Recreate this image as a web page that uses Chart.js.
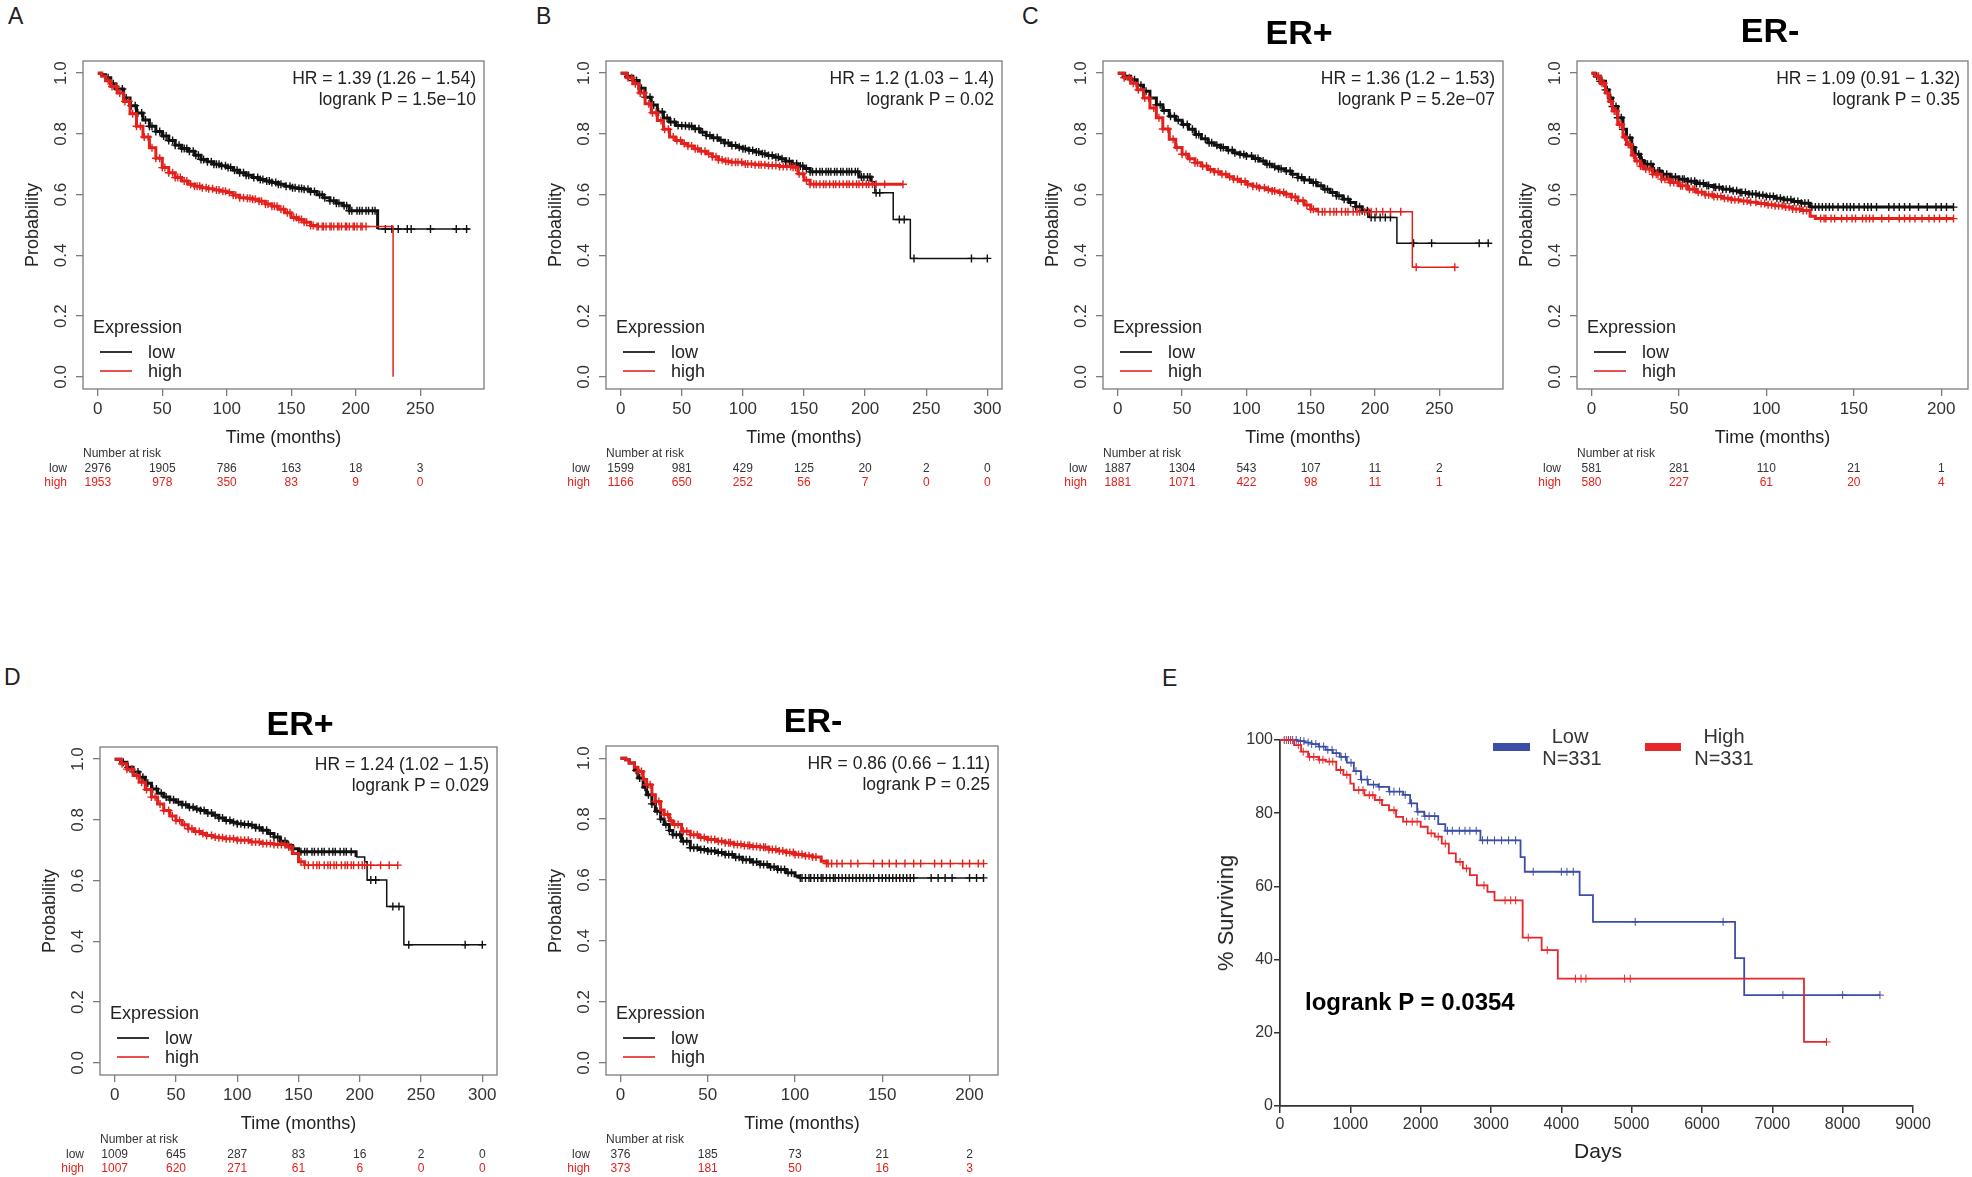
<!DOCTYPE html>
<html>
<head>
<meta charset="utf-8">
<script src="https://cdn.jsdelivr.net/npm/chart.js@4.4.1/dist/chart.umd.min.js"></script>
<style>
  body { margin: 0; background: #fff; width: 1972px; height: 1177px; position: relative; overflow: hidden;
         font-family: "Liberation Sans", Arial, sans-serif; color: #222; }
  canvas { position: absolute; }
  .t { position: absolute; white-space: nowrap; line-height: 1; }
  .ln { position: absolute; }
</style>
</head>
<body>
<script>
// ---------- data ----------
const yTicksR = [0, 0.2, 0.4, 0.6, 0.8, 1.0];
const xTicks250 = [0, 50, 100, 150, 200, 250];
const xTicks300 = [0, 50, 100, 150, 200, 250, 300];
const xTicks200 = [0, 50, 100, 150, 200];

// panel A
const aLow = [[0,1],[3,0.995],[6,0.985],[10,0.965],[14,0.948],[20,0.918],[25,0.893],[30,0.869],[35,0.846],[40,0.825],[45,0.808],[50,0.793],[55,0.778],[60,0.763],[65,0.752],[70,0.743],[75,0.73],[80,0.716],[85,0.708],[90,0.70],[95,0.695],[100,0.689],[105,0.68],[110,0.672],[115,0.664],[120,0.656],[125,0.65],[130,0.645],[135,0.64],[140,0.634],[145,0.628],[150,0.623],[155,0.62],[160,0.618],[165,0.61],[170,0.60],[175,0.59],[180,0.58],[185,0.572],[190,0.563],[195,0.547],[217,0.487],[288,0.487]];
const aHigh = [[0,1],[3,0.99],[6,0.975],[10,0.956],[15,0.935],[20,0.907],[25,0.866],[30,0.825],[35,0.79],[40,0.754],[45,0.72],[50,0.689],[55,0.672],[60,0.656],[65,0.645],[70,0.634],[75,0.628],[80,0.623],[85,0.619],[90,0.615],[95,0.611],[100,0.607],[105,0.598],[110,0.59],[115,0.588],[120,0.585],[125,0.578],[130,0.569],[135,0.562],[140,0.552],[145,0.54],[150,0.525],[155,0.518],[160,0.509],[165,0.498],[170,0.495],[229,0]];
const aLowCens = [8,12,15,19,22,26,29,31,34,37,40,42,45,48,51,53,55,58,60,63,65,67,69,71,74,76,78,80,82,85,88,90,92,94,96,99,101,103,106,108,110,113,115,117,121,124,126,128,131,133,135,138,140,142,146,149,151,153,156,158,160,163,165,168,172,174,176,180,183,185,187,191,193,195,197,201,203,205,208,210,213,215,223,228,233,240,243,258,278,286];
const aHighCens = [8,11,14,17,21,24,27,30,33,36,39,42,45,48,50,52,55,58,60,62,64,67,69,72,75,77,79,81,84,86,89,92,94,97,99,102,105,107,110,113,116,118,120,122,125,127,130,132,135,137,139,142,144,147,149,152,154,156,158,160,162,165,167,170,171,174,175,177,180,181,183,186,187,189,192,193,195,198,199,201,204,205,208];
const aRiskLow = [2976, 1905, 786, 163, 18, 3];
const aRiskHigh = [1953, 978, 350, 83, 9, 0];

// panel B
const bLow = [[0,1],[5,0.99],[10,0.976],[15,0.95],[20,0.921],[25,0.895],[30,0.872],[35,0.852],[40,0.839],[45,0.828],[50,0.827],[55,0.825],[60,0.817],[65,0.805],[70,0.795],[75,0.787],[80,0.779],[85,0.77],[90,0.762],[95,0.756],[100,0.751],[105,0.745],[110,0.74],[115,0.735],[120,0.729],[125,0.723],[130,0.718],[135,0.71],[140,0.702],[145,0.694],[150,0.686],[155,0.675],[195,0.658],[205,0.642],[208,0.606],[223,0.518],[237,0.39],[300,0.39]];
const bHigh = [[0,1],[5,0.985],[10,0.965],[15,0.935],[20,0.899],[25,0.87],[30,0.844],[35,0.815],[40,0.79],[45,0.778],[50,0.768],[55,0.76],[60,0.751],[65,0.743],[70,0.735],[75,0.725],[80,0.715],[85,0.71],[90,0.707],[100,0.701],[110,0.698],[120,0.696],[130,0.693],[140,0.69],[145,0.669],[150,0.647],[155,0.634],[231,0.634]];
const bLowCens = [6,10,13,17,20,24,27,31,34,38,41,44,47,50,53,56,58,61,64,67,70,73,76,79,82,85,88,91,94,97,100,102,105,108,111,113,116,118,121,124,127,129,132,135,138,141,144,147,149,152,155,157,160,163,165,168,170,172,175,177,180,182,185,187,189,192,194,197,199,202,204,209,212,228,232,240,287,300];
const bHighCens = [6,9,12,16,19,23,26,29,33,36,39,43,46,49,52,55,58,61,63,66,69,72,75,78,80,83,86,88,91,94,96,99,102,104,107,110,113,115,118,121,124,127,130,133,136,139,141,143,146,149,152,155,158,160,163,166,168,171,174,176,179,182,185,187,190,193,195,198,201,203,206,209,216,231];
const bRiskLow = [1599, 981, 429, 125, 20, 2, 0];
const bRiskHigh = [1166, 650, 252, 56, 7, 0, 0];

// panel C, ER+
const cpLow = [[0,1],[5,0.99],[10,0.978],[15,0.96],[20,0.94],[25,0.918],[30,0.896],[35,0.877],[40,0.858],[45,0.845],[50,0.831],[55,0.815],[60,0.798],[65,0.784],[70,0.771],[75,0.763],[80,0.755],[85,0.746],[90,0.738],[95,0.732],[100,0.727],[105,0.719],[110,0.711],[115,0.70],[120,0.692],[125,0.685],[130,0.678],[135,0.667],[140,0.656],[145,0.648],[150,0.64],[155,0.629],[160,0.618],[165,0.607],[170,0.596],[175,0.585],[180,0.574],[185,0.56],[190,0.547],[195,0.525],[217,0.44],[288,0.44]];
const cpHigh = [[0,1],[5,0.985],[10,0.967],[15,0.945],[20,0.918],[25,0.885],[30,0.853],[35,0.816],[40,0.782],[45,0.755],[50,0.733],[55,0.718],[60,0.705],[65,0.694],[70,0.683],[75,0.675],[80,0.667],[85,0.659],[90,0.651],[95,0.643],[100,0.634],[105,0.628],[110,0.623],[115,0.617],[120,0.612],[125,0.607],[130,0.601],[135,0.592],[140,0.58],[145,0.566],[150,0.552],[155,0.544],[229,0.361],[262,0.361]];
const cpLowCens = [6,10,13,18,22,25,30,33,36,41,44,47,51,54,58,61,63,68,71,73,77,80,82,86,89,91,95,98,100,104,107,109,113,116,118,122,125,127,131,134,136,140,143,145,149,152,154,158,161,163,167,170,172,176,179,181,185,188,190,194,197,200,204,208,212,230,244,281,288];
const cpHighCens = [5,9,12,16,21,24,28,32,35,39,43,46,50,53,56,60,62,66,69,72,75,78,81,84,87,90,93,96,99,101,105,108,110,114,117,120,122,126,129,131,135,138,140,144,147,150,152,156,159,161,165,168,170,174,177,179,183,186,188,192,195,197,201,206,212,220,232,262];
const cpRiskLow = [1887, 1304, 543, 107, 11, 2];
const cpRiskHigh = [1881, 1071, 422, 98, 11, 1];

// panel C, ER-
const cmLow = [[0,1],[2,0.99],[5,0.973],[8,0.945],[10,0.918],[12,0.89],[15,0.853],[18,0.815],[20,0.787],[23,0.755],[25,0.733],[28,0.712],[30,0.70],[35,0.678],[40,0.667],[45,0.658],[50,0.651],[55,0.644],[60,0.637],[65,0.63],[70,0.624],[75,0.618],[80,0.613],[85,0.607],[90,0.602],[95,0.598],[100,0.594],[105,0.588],[110,0.583],[115,0.577],[120,0.572],[125,0.559],[207,0.559]];
const cmHigh = [[0,1],[2,0.99],[5,0.967],[8,0.935],[10,0.907],[12,0.875],[15,0.831],[18,0.79],[20,0.765],[23,0.73],[25,0.711],[28,0.694],[30,0.684],[35,0.667],[40,0.651],[45,0.64],[50,0.629],[55,0.618],[60,0.608],[65,0.60],[70,0.594],[75,0.588],[80,0.583],[85,0.579],[90,0.575],[95,0.571],[100,0.567],[105,0.563],[110,0.559],[115,0.553],[120,0.548],[125,0.529],[128,0.521],[207,0.521]];
const cmLowCens = [3,5,6,8,9,11,12,14,15,17,18,20,22,24,25,27,29,31,32,34,36,38,39,41,43,45,46,48,50,52,53,55,57,59,60,62,64,66,67,70,71,73,75,77,79,81,83,85,86,88,90,92,94,96,98,100,102,104,106,108,110,112,114,116,118,120,122,124,126,128,130,132,134,136,138,141,144,146,148,150,153,156,158,160,163,170,173,176,179,182,187,192,197,200,203,207];
const cmHighCens = [4,6,7,9,11,13,14,16,17,19,21,22,24,26,28,29,31,33,35,37,38,40,42,44,45,47,49,51,52,54,56,58,59,61,63,65,67,69,70,72,74,76,78,80,82,84,87,89,91,94,97,99,101,103,105,107,109,111,113,115,117,119,121,123,131,133,134,137,139,143,146,149,151,155,157,159,161,166,170,176,179,182,185,189,193,196,199,203,207];
const cmRiskLow = [581, 281, 110, 21, 1];
const cmRiskHigh = [580, 227, 61, 20, 4];

// panel D, ER+
const dpLow = [[0,1],[5,0.99],[10,0.973],[15,0.958],[20,0.94],[25,0.921],[30,0.902],[35,0.888],[40,0.875],[45,0.866],[50,0.858],[55,0.85],[60,0.842],[65,0.836],[70,0.831],[75,0.823],[80,0.815],[85,0.806],[90,0.798],[95,0.792],[100,0.787],[105,0.785],[110,0.782],[115,0.774],[120,0.766],[125,0.755],[130,0.744],[135,0.73],[140,0.716],[145,0.705],[150,0.695],[197,0.678],[204,0.662],[206,0.602],[222,0.515],[236,0.389],[300,0.389]];
const dpHigh = [[0,1],[5,0.985],[10,0.967],[15,0.946],[20,0.924],[25,0.9],[30,0.875],[35,0.852],[40,0.831],[45,0.813],[50,0.798],[55,0.784],[60,0.771],[65,0.762],[70,0.755],[75,0.749],[80,0.744],[85,0.741],[90,0.738],[100,0.733],[110,0.727],[120,0.722],[130,0.719],[140,0.711],[145,0.689],[150,0.662],[155,0.651],[231,0.651]];
const dpLowCens = [7,11,15,19,23,27,31,34,38,42,45,48,52,55,58,61,64,67,70,73,76,79,82,85,88,91,94,97,100,103,106,109,112,115,118,121,124,127,130,133,136,139,142,146,152,155,157,161,163,166,169,171,175,178,180,184,187,189,193,209,213,227,232,240,286,300];
const dpHighCens = [6,10,14,18,22,26,30,33,37,40,44,47,50,53,57,60,63,66,69,72,75,79,82,85,88,91,94,97,100,103,106,109,112,115,118,121,124,127,130,133,136,139,142,144,152,155,158,162,165,167,171,174,176,179,181,185,188,190,193,195,199,202,204,209,217,224,231];
const dpRiskLow = [1009, 645, 287, 83, 16, 2, 0];
const dpRiskHigh = [1007, 620, 271, 61, 6, 0, 0];

// panel D, ER-
const dmLow = [[0,1],[3,0.995],[5,0.984],[8,0.96],[10,0.935],[13,0.905],[15,0.88],[18,0.85],[20,0.826],[23,0.8],[25,0.782],[28,0.763],[30,0.749],[35,0.727],[40,0.706],[45,0.70],[50,0.695],[55,0.69],[60,0.684],[65,0.675],[70,0.667],[75,0.659],[80,0.651],[85,0.643],[90,0.635],[95,0.624],[100,0.613],[102,0.607],[208,0.607]];
const dmHigh = [[0,1],[3,0.995],[5,0.984],[8,0.97],[10,0.956],[13,0.93],[15,0.913],[18,0.88],[20,0.858],[23,0.83],[25,0.815],[28,0.795],[30,0.782],[35,0.76],[40,0.749],[45,0.74],[50,0.733],[55,0.727],[60,0.722],[65,0.717],[70,0.713],[75,0.71],[80,0.708],[85,0.70],[90,0.695],[95,0.69],[100,0.684],[105,0.68],[110,0.676],[115,0.662],[118,0.654],[208,0.654]];
const dmLowCens = [9,11,14,16,18,21,23,26,28,30,32,34,36,38,40,42,44,46,48,50,52,54,56,58,60,62,64,66,68,70,72,74,76,78,80,82,84,86,88,90,92,94,96,98,103,104,106,108,109,111,113,115,116,118,120,122,123,125,127,129,131,133,135,137,139,141,143,145,148,150,152,154,156,158,160,162,164,166,168,178,182,186,190,200,204,208];
const dmHighCens = [10,12,15,17,20,22,25,27,29,31,33,36,38,40,42,44,46,48,50,52,54,56,58,60,62,63,65,67,69,71,73,74,76,78,80,82,83,85,87,89,91,93,95,97,99,100,102,104,106,108,110,112,118,119,121,124,127,132,136,145,150,154,158,163,168,172,180,184,189,196,200,205,208];
const dmRiskLow = [376, 185, 73, 21, 2];
const dmRiskHigh = [373, 181, 50, 16, 3];

// panel E (days, % surviving)
const eTicksX = [0, 1000, 2000, 3000, 4000, 5000, 6000, 7000, 8000, 9000];
const eTicksY = [0, 20, 40, 60, 80, 100];
const eLow = [[0,100],[100,100],[250,99.7],[350,99.3],[450,98.9],[550,98.2],[650,97.3],[750,96.4],[850,95.4],[950,93.8],[1050,91.5],[1150,89.2],[1250,87.8],[1400,87.2],[1550,85.9],[1750,85.0],[1850,82.7],[1950,80.4],[2050,79.2],[2250,77.0],[2350,75.2],[2850,72.6],[3420,68.0],[3480,64.0],[4260,57.6],[4450,50.3],[6470,40.4],[6600,30.3],[8530,30.3]];
const eHigh = [[0,100],[120,100],[200,98.6],[300,96.8],[400,95.4],[550,94.6],[650,94.1],[800,91.8],[900,90.5],[1000,88.1],[1050,86.3],[1200,84.9],[1350,83.6],[1450,82.2],[1550,80.8],[1650,79.0],[1750,77.7],[2000,76.3],[2100,74.5],[2200,73.6],[2300,71.7],[2400,69.0],[2500,66.7],[2600,64.9],[2700,63.1],[2800,60.3],[2950,58.5],[3050,56.2],[3450,46.0],[3720,42.6],[3950,34.8],[7450,17.5],[7770,17.5]];
const eLowCens = [60,120,180,230,290,340,400,450,510,560,620,680,740,800,870,930,1010,1080,1160,1240,1330,1410,1560,1620,1700,1780,1870,1960,2060,2120,2200,2380,2450,2550,2630,2700,2790,2880,2950,3050,3150,3250,3350,3600,4000,4080,4170,5050,6300,7150,8000,8530];
const eHighCens = [90,150,260,330,420,480,560,610,700,750,860,950,1120,1180,1270,1320,1420,1620,1800,1880,1950,2150,2250,2350,2560,2650,2900,3200,3280,3350,3530,3800,4200,4280,4350,4900,4980,7770];

// ---------- helpers ----------
const FONT = '"Liberation Sans", Arial, sans-serif';
const BLACK = '#111111';
const RED = '#e3211c';
const GRAY = '#7c7c7c';

function addText(str, x, y, o = {}) {
  const d = document.createElement('div');
  d.className = 't';
  d.textContent = str;
  d.style.left = x + 'px';
  d.style.top = y + 'px';
  d.style.fontSize = (o.size || 18) + 'px';
  if (o.bold) d.style.fontWeight = 'bold';
  if (o.color) d.style.color = o.color;
  const ax = o.align === 'right' ? '-100%' : o.align === 'left' ? '0' : '-50%';
  d.style.transform = `translate(${ax}, -50%)` + (o.rotate ? ` rotate(${o.rotate}deg)` : '');
  document.body.appendChild(d);
}

function addLine(x1, x2, y, color, h) {
  const d = document.createElement('div');
  d.className = 'ln';
  d.style.left = x1 + 'px';
  d.style.top = (y - h / 2) + 'px';
  d.style.width = (x2 - x1) + 'px';
  d.style.height = h + 'px';
  d.style.background = color;
  document.body.appendChild(d);
}

// survival value of a step curve at time t
function survAt(curve, t) {
  let s = curve[0][1];
  for (const [ti, si] of curve) {
    if (ti <= t) s = si; else break;
  }
  return s;
}

const toXY = c => c.map(p => ({ x: p[0], y: p[1] }));
const censXY = (curve, times) => times.map(t => ({ x: t, y: survAt(curve, t) }));

const boxPlugin = {
  id: 'rbox',
  beforeDatasetsDraw(chart) {
    const { ctx, chartArea: a } = chart;
    ctx.save();
    ctx.strokeStyle = GRAY;
    ctx.lineWidth = 1.3;
    ctx.strokeRect(a.left, a.top, a.right - a.left, a.bottom - a.top);
    ctx.restore();
  }
};

// ---------- R-style Kaplan-Meier panel ----------
function rPanel(p) {
  const [bl, bt, br, bb] = p.box;
  const bw = br - bl, bh = bb - bt;
  const padL = 4, padT = 20, padR = 26, padB = 4, yW = 44, xH = 42;
  const cv = document.createElement('canvas');
  cv.width = padL + yW + bw + padR;
  cv.height = padT + bh + xH + padB;
  cv.style.left = (bl - padL - yW) + 'px';
  cv.style.top = (bt - padT) + 'px';
  document.body.appendChild(cv);

  // thick where many patients are still followed, thin in the sparse tail
  const line = (curve, color, denseTo, order) => ({
    data: toXY(curve), showLine: true, stepped: true, borderColor: color,
    borderWidth: 3, pointRadius: 0, order,
    segment: { borderWidth: c => (c.p0.parsed.x < denseTo ? 3 : 1.5) }
  });
  const cens = (curve, times, color, order) => ({
    data: censXY(curve, times), showLine: false, pointStyle: 'cross',
    pointRadius: 4, borderColor: color, borderWidth: 1.4, order
  });

  const chart = new Chart(cv, {
    type: 'scatter',
    data: {
      datasets: [
        line(p.low, BLACK, p.dense[0], 3),
        cens(p.low, p.lowCens, BLACK, 2),
        line(p.high, RED, p.dense[1], 1),
        cens(p.high, p.highCens, RED, 0)
      ]
    },
    options: {
      responsive: false,
      animation: false,
      events: [],
      layout: { padding: { left: padL, top: padT, right: padR, bottom: padB } },
      plugins: { legend: { display: false }, tooltip: { enabled: false } },
      scales: {
        x: {
          type: 'linear', min: p.xmin, max: p.xmax,
          afterFit: s => { s.height = xH; },
          afterBuildTicks: s => { s.ticks = p.xTicks.map(v => ({ value: v })); },
          grid: { drawOnChartArea: false, drawTicks: true, tickLength: 7, color: GRAY, lineWidth: 1.3 },
          border: { display: false },
          ticks: { color: '#333', font: { family: FONT, size: 17 }, padding: 3, maxRotation: 0, autoSkip: false }
        },
        y: {
          type: 'linear', min: -0.04, max: 1.04,
          afterFit: s => { s.width = yW; },
          afterBuildTicks: s => { s.ticks = yTicksR.map(v => ({ value: v })); },
          grid: { drawOnChartArea: false, drawTicks: true, tickLength: 7, color: GRAY, lineWidth: 1.3 },
          border: { display: false },
          ticks: {
            color: '#333', font: { family: FONT, size: 17 }, padding: 3,
            minRotation: 90, maxRotation: 90, crossAlign: 'center', autoSkip: false,
            callback: v => v.toFixed(1)
          }
        }
      }
    },
    plugins: [boxPlugin]
  });

  // align the chart area with the wanted box
  const ca = chart.chartArea;
  const offX = bl - ca.left, offY = bt - ca.top;
  cv.style.left = offX + 'px';
  cv.style.top = offY + 'px';

  // texts around the plot
  if (p.letter) addText(p.letter[0], p.letter[1], p.letter[2], { size: 23, align: 'left' });
  if (p.title) addText(p.title[0], p.title[1], p.title[2], { size: 34, bold: true, color: '#000' });
  addText(p.hr[0], br - 8, bt + 18, { size: 17.5, align: 'right' });
  addText(p.hr[1], br - 8, bt + 39, { size: 17.5, align: 'right' });
  addText('Probability', bl - 51, (bt + bb) / 2, { size: 18, rotate: -90 });
  addText('Time (months)', (bl + br) / 2, bb + 48, { size: 18 });

  addText('Expression', bl + 10, bb - 62, { size: 18, align: 'left' });
  addLine(bl + 17, bl + 49, bb - 37, '#333', 2);
  addLine(bl + 17, bl + 49, bb - 18, '#e65050', 2);
  addText('low', bl + 65, bb - 37, { size: 18, align: 'left' });
  addText('high', bl + 65, bb - 18, { size: 18, align: 'left' });

  addText('Number at risk', bl, bb + 64, { size: 12, align: 'left', color: '#333' });
  addText('low', bl - 16, bb + 78.5, { size: 12, align: 'right', color: '#333' });
  addText('high', bl - 16, bb + 93, { size: 12, align: 'right', color: RED });
  p.xTicks.forEach((t, i) => {
    const px = offX + chart.scales.x.getPixelForValue(t);
    addText(String(p.riskLow[i]), px, bb + 78.5, { size: 12, color: '#333' });
    addText(String(p.riskHigh[i]), px, bb + 93, { size: 12, color: RED });
  });
}

rPanel({ letter: ['A', 8, 16], box: [83, 61, 484, 389], xmin: -11.5, xmax: 299.5, xTicks: xTicks250,
  low: aLow, high: aHigh, lowCens: aLowCens, highCens: aHighCens, riskLow: aRiskLow, riskHigh: aRiskHigh,
  dense: [200, 170], hr: ['HR = 1.39 (1.26 \u2212 1.54)', 'logrank P = 1.5e\u221210'] });

rPanel({ letter: ['B', 536, 16], box: [606, 61, 1002, 389], xmin: -12, xmax: 312, xTicks: xTicks300,
  low: bLow, high: bHigh, lowCens: bLowCens, highCens: bHighCens, riskLow: bRiskLow, riskHigh: bRiskHigh,
  dense: [200, 200], hr: ['HR = 1.2 (1.03 \u2212 1.4)', 'logrank P = 0.02'] });

rPanel({ letter: ['C', 1022, 16], title: ['ER+', 1299, 32], box: [1103, 61, 1503, 389], xmin: -11.5, xmax: 299.5, xTicks: xTicks250,
  low: cpLow, high: cpHigh, lowCens: cpLowCens, highCens: cpHighCens, riskLow: cpRiskLow, riskHigh: cpRiskHigh,
  dense: [195, 155], hr: ['HR = 1.36 (1.2 \u2212 1.53)', 'logrank P = 5.2e\u221207'] });

rPanel({ title: ['ER-', 1770, 30], box: [1577, 61, 1968, 389], xmin: -8.3, xmax: 215.3, xTicks: xTicks200,
  low: cmLow, high: cmHigh, lowCens: cmLowCens, highCens: cmHighCens, riskLow: cmRiskLow, riskHigh: cmRiskHigh,
  dense: [130, 130], hr: ['HR = 1.09 (0.91 \u2212 1.32)', 'logrank P = 0.35'] });

rPanel({ letter: ['D', 4, 677], title: ['ER+', 300, 723], box: [100, 747, 497, 1075], xmin: -12, xmax: 312, xTicks: xTicks300,
  low: dpLow, high: dpHigh, lowCens: dpLowCens, highCens: dpHighCens, riskLow: dpRiskLow, riskHigh: dpRiskHigh,
  dense: [197, 155], hr: ['HR = 1.24 (1.02 \u2212 1.5)', 'logrank P = 0.029'] });

rPanel({ title: ['ER-', 813, 720], box: [606, 746, 998, 1075], xmin: -8.3, xmax: 216.3, xTicks: xTicks200,
  low: dmLow, high: dmHigh, lowCens: dmLowCens, highCens: dmHighCens, riskLow: dmRiskLow, riskHigh: dmRiskHigh,
  dense: [102, 118], hr: ['HR = 0.86 (0.66 \u2212 1.11)', 'logrank P = 0.25'] });

// ---------- panel E (Prism style) ----------
(function () {
  const BLUE = '#3d4ea6';
  const ERED = '#e8262a';
  const box = [1280, 740, 1913, 1106];
  const padL = 4, padT = 20, padR = 32, padB = 4, yW = 60, xH = 36;
  const cv = document.createElement('canvas');
  cv.width = padL + yW + (box[2] - box[0]) + padR;
  cv.height = padT + (box[3] - box[1]) + xH + padB;
  document.body.appendChild(cv);

  const axisFont = { family: FONT, size: 16 };
  const chart = new Chart(cv, {
    type: 'scatter',
    data: {
      datasets: [
        { data: toXY(eLow), showLine: true, stepped: true, borderColor: BLUE, borderWidth: 1.8, pointRadius: 0, clip: false, order: 3 },
        { data: censXY(eLow, eLowCens), showLine: false, pointStyle: 'cross', pointRadius: 4, borderColor: BLUE, borderWidth: 1, clip: false, order: 2 },
        { data: toXY(eHigh), showLine: true, stepped: true, borderColor: ERED, borderWidth: 1.8, pointRadius: 0, clip: false, order: 1 },
        { data: censXY(eHigh, eHighCens), showLine: false, pointStyle: 'cross', pointRadius: 4, borderColor: ERED, borderWidth: 1, clip: false, order: 0 }
      ]
    },
    options: {
      responsive: false,
      animation: false,
      events: [],
      layout: { padding: { left: padL, top: padT, right: padR, bottom: padB } },
      plugins: { legend: { display: false }, tooltip: { enabled: false } },
      scales: {
        x: {
          type: 'linear', min: 0, max: 9000,
          afterFit: s => { s.height = xH; },
          afterBuildTicks: s => { s.ticks = eTicksX.map(v => ({ value: v })); },
          grid: { drawOnChartArea: false, drawTicks: true, tickLength: 7, color: '#333', lineWidth: 1.5 },
          border: { display: true, color: '#333', width: 1.8 },
          ticks: { color: '#333', font: axisFont, padding: 2, maxRotation: 0, autoSkip: false, callback: v => String(v) }
        },
        y: {
          type: 'linear', min: 0, max: 100,
          afterFit: s => { s.width = yW; },
          afterBuildTicks: s => { s.ticks = eTicksY.map(v => ({ value: v })); },
          grid: { drawOnChartArea: false, drawTicks: true, tickLength: 6, color: '#333', lineWidth: 1.5 },
          border: { display: true, color: '#333', width: 1.8 },
          ticks: { color: '#333', font: axisFont, padding: 1, autoSkip: false, callback: v => String(v) }
        }
      }
    }
  });
  const ca = chart.chartArea;
  cv.style.left = (box[0] - ca.left) + 'px';
  cv.style.top = (box[1] - ca.top) + 'px';

  addText('E', 1162, 678, { size: 23, align: 'left' });
  addText('% Surviving', 1226, 913, { size: 22, rotate: -90 });
  addText('Days', 1598, 1150, { size: 21 });
  addText('logrank P = 0.0354', 1305, 1002, { size: 24, bold: true, align: 'left', color: '#000' });
  addLine(1493, 1530, 747, BLUE, 8);
  addLine(1645, 1681, 747, ERED, 8);
  addText('Low', 1570, 736, { size: 20, color: '#333' });
  addText('N=331', 1572, 758, { size: 20, color: '#333' });
  addText('High', 1724, 736, { size: 20, color: '#333' });
  addText('N=331', 1724, 758, { size: 20, color: '#333' });
})();
</script>
</body>
</html>
